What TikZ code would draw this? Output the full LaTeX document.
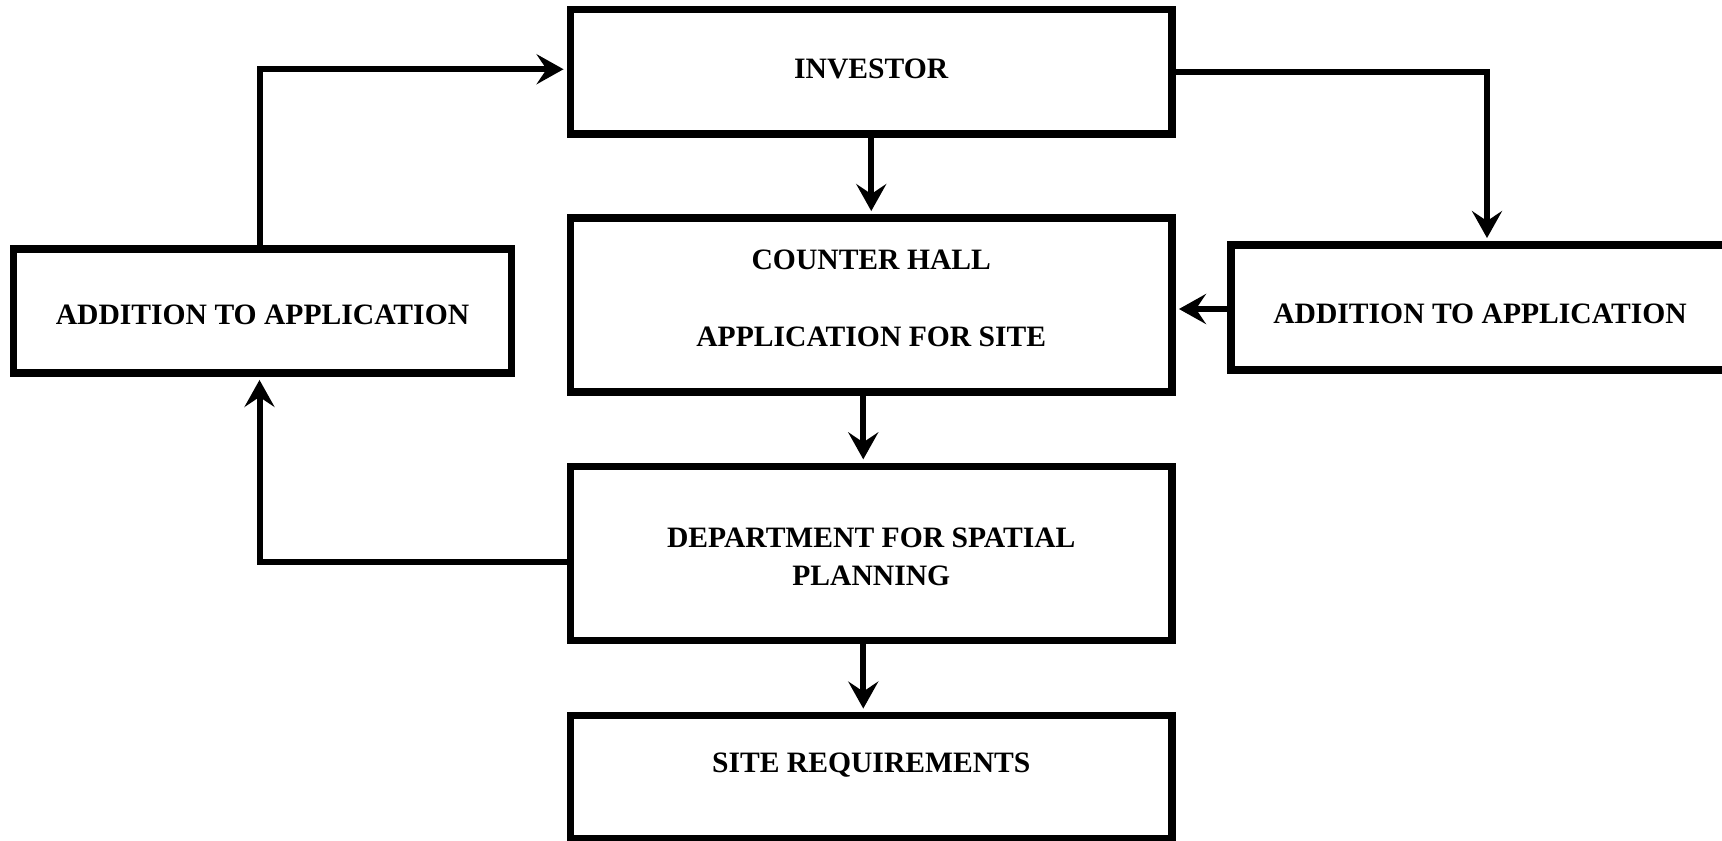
\documentclass[tikz,border=0pt]{standalone}
\usepackage{fontspec}
\setmainfont{Liberation Serif}
\usetikzlibrary{arrows.meta,calc}
\begin{document}
\begin{tikzpicture}[x=0.5pt,y=-0.5pt,
  box/.style={draw=black,line width=3.75pt,fill=none,inner sep=0pt,align=center,
    font=\bfseries\fontsize{14.8pt}{19.15pt}\selectfont},
  conn/.style={draw=black,line width=3pt,-{Stealth[length=13.5pt,width=15pt,inset=5pt]},shorten >=1.6pt}]
\useasboundingbox (0,0) rectangle (1722,840);
\node[box,minimum width=300.75pt,minimum height=62.25pt,text height=10pt,text depth=2.95pt] (inv) at (871.25,71.75) {INVESTOR};
\node[box,minimum width=300.75pt,minimum height=87pt,text depth=7pt] (counter) at (871.25,305) {COUNTER HALL\\[19.35pt]APPLICATION FOR SITE};
\node[box,minimum width=300.75pt,minimum height=87pt,text height=32.8pt] (dept) at (871.25,553.3) {DEPARTMENT FOR SPATIAL\\PLANNING};
\node[box,minimum width=300.75pt,minimum height=61.5pt,text height=10pt,text depth=14.2pt] (site) at (871.25,777) {SITE REQUIREMENTS};
\node[box,minimum width=249pt,minimum height=62pt,text height=13.8pt,text depth=0pt] (ladd) at (262.5,311) {ADDITION TO APPLICATION};
\node[box,minimum width=249pt,minimum height=62.5pt,text height=16.3pt,text depth=0pt] (radd) at (1480,307.5) {ADDITION TO APPLICATION};
\draw[conn] (inv.south) -- (counter.north);
\draw[conn] ($(counter.south)+(-8,0)$) -- ($(dept.north)+(-8,0)$);
\draw[conn] ($(dept.south)+(-8,0)$) -- ($(site.north)+(-8,0)$);
\draw[conn] ($(ladd.north)+(-3,0)$) |- ($(inv.west)+(0,-2.5)$);
\draw[conn] (inv.east) -| ($(radd.north)+(7,0)$);
\draw[conn] ($(radd.west)+(0,1.5)$) -- ($(radd.west -| counter.east)+(0,1.5)$);
\draw[conn] ($(dept.west)+(0,9)$) -| ($(ladd.south)+(-3,0)$);
\end{tikzpicture}
\end{document}
